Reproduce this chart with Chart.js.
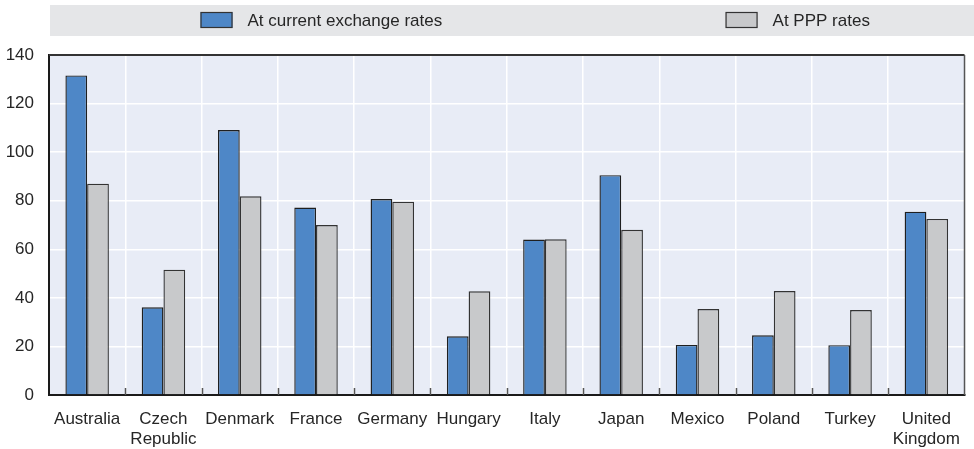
<!DOCTYPE html>
<html>
<head>
<meta charset="utf-8">
<script src="https://cdn.jsdelivr.net/npm/chart.js@4/dist/chart.umd.min.js"></script>
<style>
  html, body { margin: 0; padding: 0; background: #fff; }
  #wrap { width: 974px; height: 449px; position: relative; }
</style>
</head>
<body>
<div id="wrap"><canvas id="chartCanvas"></canvas></div>
<script>
// data
const countries = ['Australia', ['Czech', 'Republic'], 'Denmark', 'France', 'Germany', 'Hungary',
  'Italy', 'Japan', 'Mexico', 'Poland', 'Turkey', ['United', 'Kingdom']];
const currentRates = [131.6, 36.1, 109.1, 77.2, 80.7, 24.2, 64.0, 90.5, 20.6, 24.6, 20.5, 75.5];
const pppRates = [87.0, 51.6, 81.8, 70.0, 79.6, 42.7, 64.1, 68.0, 35.4, 42.8, 35.0, 72.5];
const seriesNames = ['At current exchange rates', 'At PPP rates'];
const yTicks = [0, 20, 40, 60, 80, 100, 120, 140];

const FONT = '"Liberation Sans", Arial, sans-serif';
const TEXT = '#262626';
const BLUE = '#4e87c7';
const GREY = '#c8c9cb';

// background panel, legend band, frame and inner tick marks
const decor = {
  id: 'decor',
  beforeDraw(chart) {
    const { ctx, chartArea: a } = chart;
    ctx.save();
    ctx.fillStyle = '#e5e6e8';
    ctx.fillRect(a.left + 1, 5, chart.width - a.left - 1, 31);
    ctx.fillStyle = '#e8ecf6';
    ctx.fillRect(a.left, a.top, a.right - a.left, a.bottom - a.top);

    // legend
    const spots = [0.1655, 0.739];
    ctx.font = '17px ' + FONT;
    ctx.textBaseline = 'middle';
    chart.data.datasets.forEach((ds, i) => {
      const x = a.left + (a.right - a.left) * spots[i];
      ctx.fillStyle = ds.backgroundColor;
      ctx.fillRect(x, 12, 32, 16);
      ctx.strokeStyle = '#333';
      ctx.lineWidth = 1.2;
      ctx.strokeRect(x + 0.5, 12.5, 31, 15);
      ctx.fillStyle = TEXT;
      ctx.fillText(ds.label, x + 47, 21);
    });
    ctx.restore();
  },
  afterDatasetsDraw(chart) {
    const { ctx, chartArea: a, scales } = chart;
    const xs = scales.x;
    ctx.save();
    ctx.strokeStyle = '#555';
    ctx.lineWidth = 1.5;
    for (let i = 0; i < countries.length - 1; i++) {
      const bx = Math.round((xs.getPixelForValue(i) + xs.getPixelForValue(i + 1)) / 2) + 0.5;
      ctx.beginPath();
      ctx.moveTo(bx, a.bottom);
      ctx.lineTo(bx, a.bottom - 7);
      ctx.stroke();
    }
    ctx.strokeStyle = '#333';
    ctx.lineWidth = 2;
    ctx.beginPath();
    ctx.moveTo(a.left, a.top);
    ctx.lineTo(a.right, a.top);
    ctx.stroke();
    ctx.strokeStyle = '#555';
    ctx.lineWidth = 1.5;
    ctx.beginPath();
    ctx.moveTo(a.right, a.top);
    ctx.lineTo(a.right, a.bottom);
    ctx.stroke();
    ctx.restore();
  }
};

const ctx = document.getElementById('chartCanvas').getContext('2d');
new Chart(ctx, {
  type: 'bar',
  data: {
    labels: countries,
    datasets: [{
      label: seriesNames[0],
      data: currentRates,
      backgroundColor: BLUE,
      borderColor: '#1f1f1f',
      borderWidth: 1.4
    }, {
      label: seriesNames[1],
      data: pppRates,
      backgroundColor: GREY,
      borderColor: '#333',
      borderWidth: 1.4
    }]
  },
  options: {
    responsive: true,
    maintainAspectRatio: false,
    animation: false,
    layout: { padding: { top: 55, right: 2, left: 0, bottom: 0 } },
    datasets: { bar: { categoryPercentage: 0.57, barPercentage: 1 } },
    plugins: {
      legend: { display: false },
      tooltip: { enabled: false }
    },
    scales: {
      x: {
        grid: { color: '#ffffff', lineWidth: 1.5, drawTicks: false, offset: true },
        border: { display: true, color: '#1a1a1a', width: 2 },
        ticks: { color: TEXT, font: { family: FONT, size: 17 }, padding: 14, maxRotation: 0, autoSkip: false },
        afterFit(scale) { scale.height = 54; }
      },
      y: {
        min: 0,
        max: 140,
        afterBuildTicks(scale) { scale.ticks = yTicks.map(v => ({ value: v })); },
        grid: { color: '#ffffff', lineWidth: 1.5, drawTicks: false },
        border: { display: true, color: '#1a1a1a', width: 2 },
        ticks: { color: TEXT, font: { family: FONT, size: 17 }, padding: 15 },
        afterFit(scale) { scale.width = 49; }
      }
    }
  },
  plugins: [decor]
});
</script>
</body>
</html>
